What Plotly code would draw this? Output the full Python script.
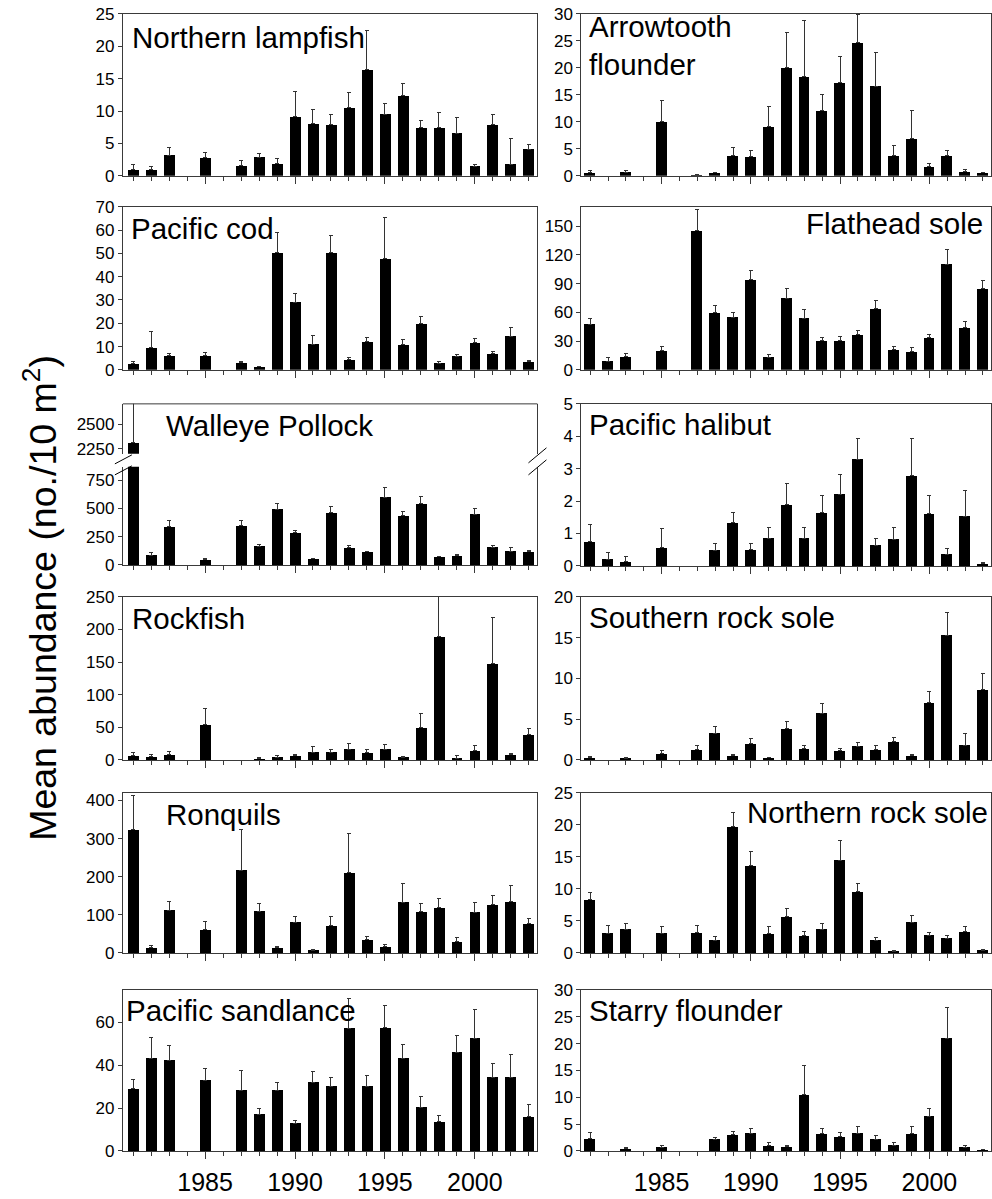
import plotly.graph_objects as go

W, H = 992, 1199
years = list(range(1981, 2004))
year_ticks = [1985, 1990, 1995, 2000]

# ---- data (mean, mean + SE) ; None = no sample ----
lampfish = [1.0, 1.0, 3.2, None, 2.8, None, 1.6, 2.9, 1.9, 9.1, 8.1, 7.9, 10.5, 16.4, 9.5, 12.4, 7.4, 7.4, 6.6, 1.5, 7.9, 1.8, 4.1]
lampfish_hi = [1.8, 1.5, 4.3, None, 3.6, None, 2.3, 3.4, 2.7, 13.0, 10.3, 9.5, 12.9, 22.4, 11.1, 14.2, 8.6, 9.8, 9.0, 1.8, 9.4, 5.8, 4.9]

arrowtooth = [0.6, None, 0.7, None, 10.0, None, 0.2, 0.6, 3.7, 3.5, 9.1, 20.0, 18.3, 12.1, 17.3, 24.7, 16.6, 3.8, 6.9, 1.7, 3.7, 0.8, 0.6]
arrowtooth_hi = [0.9, None, 1.0, None, 14.0, None, 0.3, 0.7, 5.2, 4.6, 12.9, 26.6, 28.8, 15.1, 22.1, 29.8, 22.9, 5.7, 12.1, 2.2, 4.6, 1.2, 0.7]

cod = [2.6, 9.4, 6.1, None, 6.1, None, 3.0, 1.4, 50.3, 29.1, 11.1, 50.3, 4.3, 12.1, 47.7, 10.7, 19.9, 2.9, 5.9, 11.7, 6.9, 14.4, 3.4]
cod_hi = [3.6, 16.6, 7.1, None, 7.3, None, 3.7, 1.6, 59.1, 32.9, 14.7, 57.7, 5.1, 14.0, 65.6, 13.1, 22.9, 3.6, 6.7, 13.3, 7.7, 18.1, 4.1]

flathead = [47.6, 9.0, 14.1, None, 20.3, None, 145.2, 59.7, 54.8, 93.8, 13.1, 74.8, 53.8, 30.3, 30.3, 36.6, 63.8, 21.4, 19.0, 33.4, 110.3, 43.8, 84.8]
flathead_hi = [53.4, 12.8, 17.2, None, 24.8, None, 167.2, 66.6, 59.7, 103.1, 16.2, 85.2, 62.8, 34.1, 34.8, 41.0, 72.1, 24.5, 23.4, 36.6, 125.5, 50.0, 92.8]

pollock = [2316, 86, 340, None, 44, None, 348, 165, 493, 283, 53, 461, 151, 115, 599, 434, 540, 74, 83, 449, 156, 120, 115]
pollock_hi = [2850, 109, 393, None, 53, None, 396, 177, 543, 307, 59, 520, 168, 121, 688, 472, 605, 77, 89, 499, 174, 150, 130]

halibut = [0.74, 0.21, 0.13, None, 0.57, None, None, 0.49, 1.34, 0.51, 0.86, 1.89, 0.86, 1.64, 2.21, 3.29, 0.64, 0.82, 2.78, 1.61, 0.36, 1.53, 0.07]
halibut_hi = [1.27, 0.41, 0.29, None, 1.15, None, None, 0.69, 1.64, 0.69, 1.18, 2.53, 1.18, 2.16, 2.83, 3.94, 0.83, 1.18, 3.94, 2.17, 0.53, 2.33, 0.12]

rockfish = [6.7, 4.6, 8.2, None, 54.1, None, None, 2.0, 4.1, 6.7, 11.9, 11.9, 16.5, 11.3, 16.5, 4.1, 49.5, 188.7, 2.6, 13.9, 147.4, 8.2, 39.0]
rockfish_hi = [11.9, 7.7, 12.4, None, 78.9, None, None, 3.0, 6.2, 7.7, 21.1, 16.0, 24.7, 15.5, 24.2, 5.7, 71.6, 260.0, 6.2, 22.2, 218.0, 10.5, 48.0]

s_rock_sole = [0.3, None, 0.2, None, 0.75, None, 1.25, 3.3, 0.55, 2.0, 0.27, 3.86, 1.4, 5.73, 1.12, 1.7, 1.29, 2.27, 0.51, 7.0, 15.3, 1.82, 8.63]
s_rock_sole_hi = [0.38, None, 0.3, None, 1.15, None, 1.75, 4.05, 0.62, 2.6, 0.32, 4.7, 1.8, 6.96, 1.4, 2.14, 1.73, 2.8, 0.67, 8.4, 18.1, 3.3, 10.63]

ronquils = [324, 14, 112, None, 61, None, 217, 110, 14, 81, 7, 71, 211, 35, 17, 133, 108, 119, 30, 107, 126, 134, 76]
ronquils_hi = [414, 20, 134, None, 83, None, 323, 130, 16.5, 95, 9, 96, 313, 43, 21, 183, 130, 142, 41, 132, 150, 177, 90]

n_rock_sole = [8.3, 3.1, 3.7, None, 3.1, None, 3.2, 2.0, 19.7, 13.6, 3.0, 5.7, 2.7, 3.7, 14.5, 9.6, 2.0, 0.3, 4.8, 2.8, 2.3, 3.3, 0.4]
n_rock_sole_hi = [9.5, 4.3, 4.6, None, 4.1, None, 4.3, 2.5, 22.0, 15.8, 4.2, 6.9, 3.4, 4.6, 17.5, 10.9, 2.4, 0.4, 5.8, 3.2, 2.8, 4.1, 0.6]

sandlance = [29.1, 43.3, 42.2, None, 33.0, None, 28.2, 17.1, 28.4, 13.0, 32.1, 30.2, 57.1, 30.2, 57.5, 43.3, 20.3, 13.5, 45.9, 52.6, 34.4, 34.4, 16.0]
sandlance_hi = [33.3, 52.7, 49.3, None, 38.4, None, 37.4, 19.8, 32.1, 14.4, 36.9, 34.1, 70.9, 35.2, 67.8, 49.5, 25.3, 16.7, 54.0, 65.7, 40.6, 45.0, 21.5]

starry = [2.3, None, 0.4, None, 0.7, None, None, 2.2, 3.0, 3.3, 1.0, 0.8, 10.5, 3.2, 2.7, 3.3, 2.2, 1.1, 3.2, 6.5, 21.0, 0.7, 0.2]
starry_hi = [3.5, None, 0.6, None, 1.0, None, None, 2.6, 3.6, 4.1, 1.5, 1.0, 15.9, 4.2, 3.5, 4.6, 2.8, 1.5, 4.6, 8.0, 26.8, 1.0, 0.3]

# ---- layout helpers ----
FONT = "Arial, Liberation Sans, sans-serif"
LINE = "#3a3a3a"
TITLE_SIZE = 29.5
TICK_SIZE = 17
# vertical calibration of the photographed page (offset, scale)
Y_OFF, Y_SCALE = 8.2, 0.984


def fx(p):
    return p / W


def fy(p):
    return 1 - ((p - Y_OFF) / Y_SCALE) / H


col_px = [(123, 538), (582, 992)]
col_range = [[1980.43, 2003.48], [1980.51, 2003.45]]
row_px = [(13, 175), (206, 369), (403, 565), (596, 759), (792, 952), (989, 1150)]

# name, values, upper, y range, y tick values, title x px, title y px, anchor
panels = [
    ("Northern lampfish", lampfish, lampfish_hi, [0, 25], [0, 5, 10, 15, 20, 25], 130, 37, "left"),
    ("Arrowtooth<br>flounder", arrowtooth, arrowtooth_hi, [0, 30], [0, 5, 10, 15, 20, 25, 30], 588, 45, "left"),
    ("Pacific cod", cod, cod_hi, [0, 70], [0, 10, 20, 30, 40, 50, 60, 70], 129, 228, "left"),
    ("Flathead sole", flathead, flathead_hi, [0, 170], [0, 30, 60, 90, 120, 150], 986, 223, "right"),
    ("Walleye Pollock", pollock, pollock_hi, [0, 868], [0, 250, 500, 750], 164, 425, "left"),
    ("Pacific halibut", halibut, halibut_hi, [0, 5], [0, 1, 2, 3, 4, 5], 588, 424, "left"),
    ("Rockfish", rockfish, rockfish_hi, [0, 250], [0, 50, 100, 150, 200, 250], 130, 618, "left"),
    ("Southern rock sole", s_rock_sole, s_rock_sole_hi, [0, 20], [0, 5, 10, 15, 20], 588, 617, "left"),
    ("Ronquils", ronquils, ronquils_hi, [0, 420], [0, 100, 200, 300, 400], 164, 814, "left"),
    ("Northern rock sole", n_rock_sole, n_rock_sole_hi, [0, 25], [0, 5, 10, 15, 20, 25], 991, 812, "right"),
    ("Pacific sandlance", sandlance, sandlance_hi, [0, 75], [0, 20, 40, 60], 124, 1010, "left"),
    ("Starry flounder", starry, starry_hi, [0, 30], [0, 5, 10, 15, 20, 25, 30], 588, 1010, "left"),
]

fig = go.Figure()
layout = dict(
    width=W, height=H, margin=dict(l=0, r=0, t=0, b=0),
    paper_bgcolor="white", plot_bgcolor="white", showlegend=False,
    bargap=0, font=dict(family=FONT, color="black"),
)
annotations = []
shapes = []


def err_plus(v, hi):
    return [None if (a is None or b is None) else b - a for a, b in zip(v, hi)]


def bar_trace(v, hi, xa, ya):
    return go.Bar(
        x=years, y=v, xaxis=xa, yaxis=ya, width=0.61,
        marker=dict(color="black", line=dict(width=0)),
        error_y=dict(type="data", symmetric=False, array=err_plus(v, hi),
                     arrayminus=[0] * len(v), color="#333333", thickness=1, width=2),
        hoverinfo="skip",
    )


for k, (name, vals, hi, yr, ytv, tx, ty, anc) in enumerate(panels, start=1):
    r, c = divmod(k - 1, 2)
    x0, x1 = col_px[c]
    y0, y1 = row_px[r]
    xa, ya = f"x{k}", f"y{k}"
    fig.add_trace(bar_trace(vals, hi, xa, ya))
    bottom = r == 5
    xkey = "xaxis" if k == 1 else f"xaxis{k}"
    ykey = "yaxis" if k == 1 else f"yaxis{k}"
    layout[xkey] = dict(
        domain=[fx(x0), fx(x1)], anchor=ya, range=col_range[c],
        showgrid=False, zeroline=False, showline=True, linecolor=LINE, linewidth=1,
        mirror=(k != 5),
        tickmode="array", tickvals=year_ticks, ticktext=[str(t) for t in year_ticks],
        ticks="outside", ticklen=7, tickcolor=LINE, tickwidth=1,
        showticklabels=bottom, tickfont=dict(size=25, family=FONT, color="black"),
        ticklabelstandoff=2,
        minor=dict(tickmode="array", tickvals=years, ticks="outside", ticklen=4,
                   tickcolor=LINE, tickwidth=1, showgrid=False),
        fixedrange=True,
    )
    if k == 5:
        ydom = [fy(564), fy(466)]
    else:
        ydom = [fy(y1), fy(y0)]
    layout[ykey] = dict(
        domain=ydom, anchor=xa, range=yr,
        showgrid=False, zeroline=False, showline=True, linecolor=LINE, linewidth=1,
        mirror=True, tickmode="array", tickvals=ytv,
        ticks="outside", ticklen=4, tickcolor=LINE, tickwidth=1,
        tickfont=dict(size=TICK_SIZE, family=FONT, color="black"), fixedrange=True,
    )
    annotations.append(dict(
        text=name, x=fx(tx), y=fy(ty), xref="paper", yref="paper",
        xanchor=anc, yanchor="middle", showarrow=False, align=anc,
        font=dict(size=TITLE_SIZE, family=FONT, color="black"),
    ))

# Walleye pollock upper (broken) axis
fig.add_trace(bar_trace(pollock, pollock_hi, "x5", "y13"))
layout["yaxis13"] = dict(
    domain=[fy(453), fy(403)], anchor="x5", range=[2200, 2706],
    showgrid=False, zeroline=False, showline=True, linecolor=LINE, linewidth=1,
    mirror=True, tickmode="array", tickvals=[2250, 2500],
    ticks="outside", ticklen=4, tickcolor=LINE, tickwidth=1,
    tickfont=dict(size=TICK_SIZE, family=FONT, color="black"), fixedrange=True,
)
shapes.append(dict(type="line", xref="paper", yref="paper",
                   x0=fx(123), x1=fx(538), y0=fy(403), y1=fy(403),
                   line=dict(color=LINE, width=1)))
# break marks
for (a, b, cc, d) in [(115, 463, 132, 454), (115, 474, 132, 465),
                      (529, 462, 547, 447), (529, 474, 547, 459)]:
    shapes.append(dict(type="line", xref="paper", yref="paper",
                       x0=fx(a), y0=fy(b), x1=fx(cc), y1=fy(d),
                       line=dict(color="black", width=1)))

annotations.append(dict(
    text="Mean abundance (no./10 m<sup>2</sup>)", x=fx(40), y=fy(597),
    xref="paper", yref="paper", xanchor="center", yanchor="middle",
    textangle=-90, showarrow=False, font=dict(size=37.5, family=FONT, color="black"),
))

layout["annotations"] = annotations
layout["shapes"] = shapes
fig.update_layout(**layout)

post = (
    "var s=document.createElement('style');"
    "s.innerHTML='html,body{margin:0!important;padding:0!important;overflow:hidden;"
    "width:992px;height:1199px;}"
    ".plotly-graph-div{position:absolute!important;top:0;left:0;}';"
    "document.head.appendChild(s);"
    "window.scrollTo(0,0);"
)
fig.write_html("out.html", config={"displayModeBar": False}, post_script=post)
